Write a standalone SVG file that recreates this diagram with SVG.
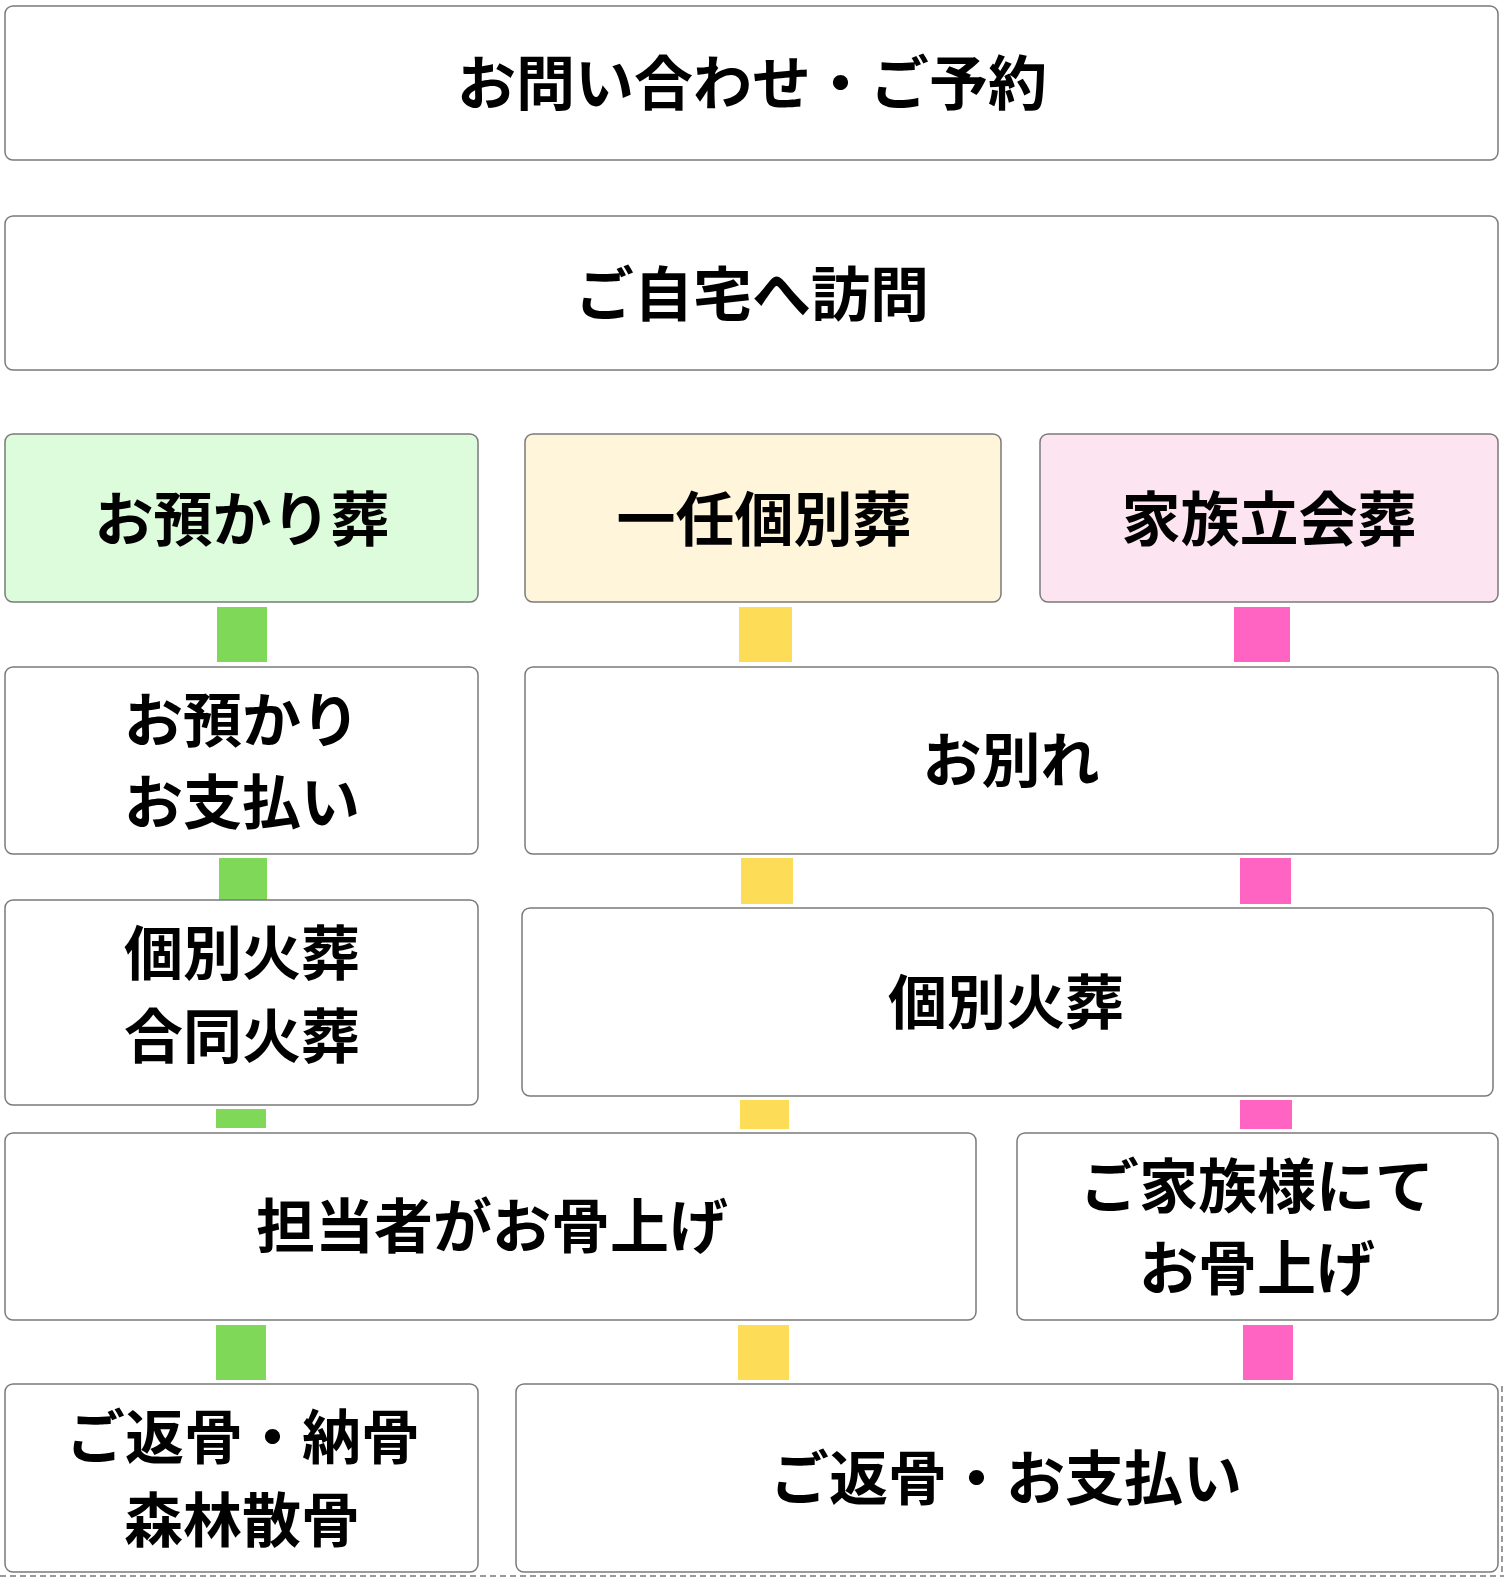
<svg xmlns="http://www.w3.org/2000/svg" width="1504" height="1577" viewBox="0 0 1504 1577">
<style>
.box{fill:#ffffff;stroke:#7a7a7a;stroke-width:1.5}
.g{fill:#dcfcdc}
.y{fill:#fff5da}
.p{fill:#fce4f1}
.t{font-family:"Noto Sans CJK JP","Noto Sans CJK SC",sans-serif;font-weight:700;font-size:59px;fill:#000;text-anchor:middle;dominant-baseline:central}
.cg{fill:#80d858}
.cy{fill:#fddc58}
.cp{fill:#ff64c2}
</style>
<rect width="1504" height="1577" fill="#ffffff"/>
<g id="connectors">
  <rect class="cg" x="217" y="607" width="50" height="55"/>
  <rect class="cy" x="739" y="607" width="53" height="55"/>
  <rect class="cp" x="1234" y="607" width="56" height="55"/>
  <rect class="cg" x="219" y="858" width="48" height="46"/>
  <rect class="cy" x="741" y="858" width="52" height="46"/>
  <rect class="cp" x="1240" y="858" width="51" height="46"/>
  <rect class="cg" x="216" y="1109" width="50" height="19"/>
  <rect class="cy" x="740" y="1100" width="49" height="29"/>
  <rect class="cp" x="1240" y="1100" width="52" height="29"/>
  <rect class="cg" x="216" y="1325" width="50" height="55"/>
  <rect class="cy" x="738" y="1325" width="51" height="55"/>
  <rect class="cp" x="1243" y="1325" width="50" height="55"/>
</g>
<g id="n1"><rect class="box" x="5" y="6" width="1493" height="154" rx="8"/><text class="t" x="752" y="79">お問い合わせ・ご予約</text></g>
<g id="n2"><rect class="box" x="5" y="216" width="1493" height="154" rx="8"/><text class="t" x="752" y="290">ご自宅へ訪問</text></g>
<g id="n3"><rect class="box g" x="5" y="434" width="473" height="168" rx="8"/><text class="t" x="242" y="515">お預かり葬</text></g>
<g id="n4"><rect class="box y" x="525" y="434" width="476" height="168" rx="8"/><text class="t" x="764" y="515">一任個別葬</text></g>
<g id="n5"><rect class="box p" x="1040" y="434" width="458" height="168" rx="8"/><text class="t" x="1269" y="515">家族立会葬</text></g>
<g id="n6"><rect class="box" x="5" y="667" width="473" height="187" rx="8"/><text class="t" x="242" y="716">お預かり</text><text class="t" x="242" y="798">お支払い</text></g>
<g id="n7"><rect class="box" x="525" y="667" width="973" height="187" rx="8"/><text class="t" x="1011" y="756">お別れ</text></g>
<g id="n8"><rect class="box" x="5" y="900" width="473" height="205" rx="8"/><text class="t" x="242" y="949">個別火葬</text><text class="t" x="242" y="1032">合同火葬</text></g>
<g id="n9"><rect class="box" x="522" y="908" width="971" height="188" rx="8"/><text class="t" x="1006" y="998">個別火葬</text></g>
<g id="n10"><rect class="box" x="5" y="1133" width="971" height="187" rx="8"/><text class="t" x="492" y="1222">担当者がお骨上げ</text></g>
<g id="n11"><rect class="box" x="1017" y="1133" width="481" height="187" rx="8"/><text class="t" x="1257" y="1182">ご家族様にて</text><text class="t" x="1257" y="1264">お骨上げ</text></g>
<g id="n12"><rect class="box" x="5" y="1384" width="473" height="188" rx="8"/><text class="t" x="243" y="1433">ご返骨・納骨</text><text class="t" x="242" y="1516">森林散骨</text></g>
<g id="n13"><rect class="box" x="516" y="1384" width="982" height="188" rx="8"/><text class="t" x="1006" y="1474">ご返骨・お支払い</text></g>
<g id="edge-artifact" fill="none" stroke="#9a9a9a" stroke-width="2" stroke-dasharray="6 4">
  <path d="M0 1576 H1504"/>
  <path d="M1502 1386 V1576"/>
</g>
</svg>
